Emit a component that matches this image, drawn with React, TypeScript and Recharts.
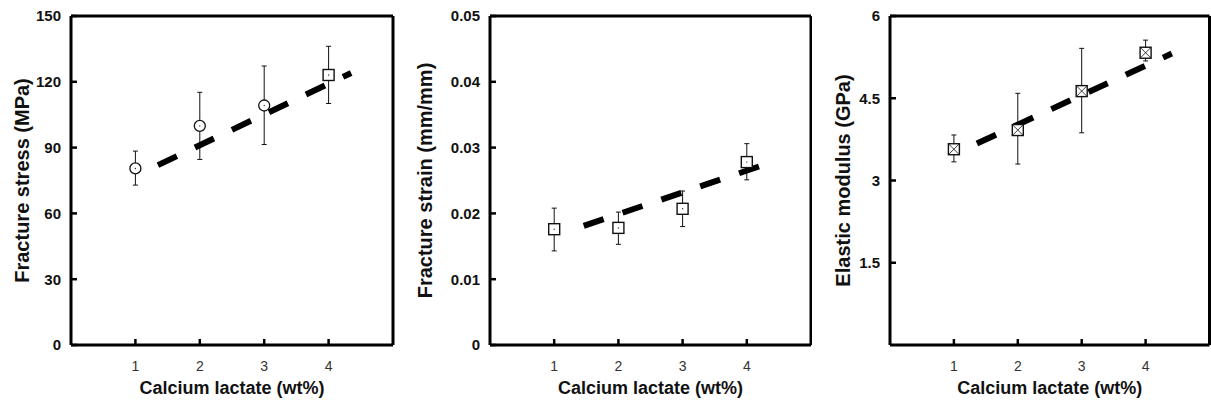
import React from "react";
import { ComposedChart, Scatter, Line, XAxis, YAxis, ErrorBar } from "recharts";

// calcium lactate content (wt%)
const lactate = [1, 2, 3, 4];
const xTicks = [1, 2, 3, 4];

// fracture stress (MPa)
const stressMean = [80.5, 99.9, 109.2, 123.1];
const stressLow = [72.9, 84.6, 91.4, 110.1];
const stressHigh = [88.4, 115.2, 127.2, 136.2];
const stressFitX = [1.35, 4.35];
const stressFitY = [82, 124];
const stressTicks = [0, 30, 60, 90, 120, 150];

// fracture strain (mm/mm)
const strainMean = [0.0176, 0.0178, 0.0207, 0.0278];
const strainLow = [0.0143, 0.0153, 0.018, 0.0251];
const strainHigh = [0.0208, 0.0202, 0.0234, 0.0306];
const strainFitX = [1.46, 4.21];
const strainFitY = [0.0181, 0.0272];
const strainTicks = [0, 0.01, 0.02, 0.03, 0.04, 0.05];

// elastic modulus (GPa)
const modulusMean = [3.57, 3.92, 4.63, 5.33];
const modulusLow = [3.34, 3.3, 3.87, 5.18];
const modulusHigh = [3.83, 4.59, 5.41, 5.56];
const modulusFitX = [1.36, 4.41];
const modulusFitY = [3.675, 5.315];
const modulusTicks = [1.5, 3, 4.5, 6];

const FONT = '"Liberation Sans", Arial, sans-serif';
const H = 404;
const TOP = 16;
const BOTTOM = 345;

type Marker = "circle" | "square" | "cross";

const makeShape = (marker: Marker) => (props: any) => {
  const { cx, cy, payload } = props;
  if (cx == null || cy == null) return <g />;
  const s = 5.5;
  if (marker === "circle" && payload.x !== 4) {
    return (
      <g>
        <circle cx={cx} cy={cy} r={s} fill="#fff" stroke="#111" strokeWidth={1.3} />
        <circle cx={cx} cy={cy} r={0.7} fill="#333" />
      </g>
    );
  }
  return (
    <g>
      <rect x={cx - s} y={cy - s} width={2 * s} height={2 * s} fill="#fff" stroke="#111" strokeWidth={1.4} />
      {marker === "cross" ? (
        <g stroke="#222" strokeWidth={0.9}>
          <line x1={cx - s} y1={cy - s} x2={cx + s} y2={cy + s} />
          <line x1={cx - s} y1={cy + s} x2={cx + s} y2={cy - s} />
        </g>
      ) : (
        <circle cx={cx} cy={cy} r={0.7} fill="#333" />
      )}
    </g>
  );
};

interface PanelProps {
  left: number;
  width: number;
  axisWidth: number;
  plotWidth: number;
  titleX: number;
  title: string;
  mean: number[];
  low: number[];
  high: number[];
  fitX: number[];
  fitY: number[];
  yTicks: number[];
  yMax: number;
  yFmt: (v: number) => string;
  marker: Marker;
}

function Panel(p: PanelProps) {
  const points = lactate.map((x, i) => ({
    x,
    y: p.mean[i],
    err: [p.mean[i] - p.low[i], p.high[i] - p.mean[i]],
  }));
  const fit = p.fitX.map((x, i) => ({ x, y: p.fitY[i] }));
  const axisLine = { stroke: "#000", strokeWidth: 3 };
  const tickLine = { stroke: "#000", strokeWidth: 2.5 };

  return (
    <div style={{ position: "absolute", left: p.left, top: 0 }}>
      <ComposedChart
        width={p.width}
        height={H}
        margin={{ top: TOP - 1, right: p.width - p.axisWidth - p.plotWidth - 1, bottom: 0, left: 0 }}
      >
        <XAxis
          xAxisId="b"
          type="number"
          dataKey="x"
          domain={[0, 5]}
          ticks={xTicks}
          height={H - BOTTOM}
          axisLine={axisLine}
          tickLine={tickLine}
          tickSize={-6}
          tickMargin={22}
          tick={{ fill: "#333", fontSize: 14, fontFamily: FONT }}
          label={{
            content: (lp: any) => {
              const vb = lp.viewBox;
              return (
                <text
                  x={vb.x + vb.width / 2}
                  y={vb.y + 49}
                  textAnchor="middle"
                  fontFamily={FONT}
                  fontWeight="bold"
                  fontSize={18}
                  fill="#111"
                >
                  Calcium lactate (wt%)
                </text>
              );
            },
          }}
        />
        <XAxis
          xAxisId="t"
          orientation="top"
          type="number"
          dataKey="x"
          domain={[0, 5]}
          ticks={xTicks}
          height={1}
          axisLine={axisLine}
          tickLine={tickLine}
          tickSize={-6}
          tickFormatter={() => ""}
        />
        <YAxis
          yAxisId="l"
          type="number"
          domain={[0, p.yMax]}
          ticks={p.yTicks}
          width={p.axisWidth}
          axisLine={axisLine}
          tickLine={tickLine}
          tickSize={-6}
          tickMargin={16}
          tickFormatter={p.yFmt}
          tick={{ fill: "#111", fontSize: 15, fontWeight: "bold", fontFamily: FONT }}
          label={{
            content: (lp: any) => {
              const vb = lp.viewBox;
              const cx = vb.x + p.titleX;
              const cy = vb.y + vb.height / 2;
              return (
                <text
                  x={cx}
                  y={cy}
                  transform={`rotate(-90, ${cx}, ${cy})`}
                  textAnchor="middle"
                  dominantBaseline="central"
                  fontFamily={FONT}
                  fontWeight="bold"
                  fontSize={20}
                  fill="#111"
                >
                  {p.title}
                </text>
              );
            },
          }}
        />
        <YAxis
          yAxisId="r"
          orientation="right"
          type="number"
          domain={[0, p.yMax]}
          ticks={p.yTicks}
          width={1}
          axisLine={axisLine}
          tickLine={tickLine}
          tickSize={-6}
          tickFormatter={() => ""}
        />
        <Scatter
          xAxisId="b"
          yAxisId="l"
          data={points}
          dataKey="y"
          shape={makeShape(p.marker)}
          isAnimationActive={false}
        >
          <ErrorBar dataKey="err" direction="y" width={2.5} stroke="#111" strokeWidth={1} />
        </Scatter>
        <Scatter xAxisId="t" yAxisId="r" data={[]} dataKey="y" isAnimationActive={false} />
        <Line
          xAxisId="b"
          yAxisId="l"
          data={fit}
          dataKey="y"
          type="linear"
          stroke="#000"
          strokeWidth={6}
          strokeDasharray="21 20"
          dot={false}
          activeDot={false}
          isAnimationActive={false}
        />
      </ComposedChart>
    </div>
  );
}

export default function App() {
  return (
    <div
      style={{
        position: "absolute",
        left: 0,
        top: 0,
        width: 1211,
        height: H,
        overflow: "hidden",
        background: "#fff",
      }}
    >
      <Panel
        left={0}
        width={400}
        axisWidth={71}
        plotWidth={322}
        titleX={22}
        title="Fracture stress (MPa)"
        mean={stressMean}
        low={stressLow}
        high={stressHigh}
        fitX={stressFitX}
        fitY={stressFitY}
        yTicks={stressTicks}
        yMax={150}
        yFmt={(v) => String(v)}
        marker="circle"
      />
      <Panel
        left={400}
        width={412}
        axisWidth={90}
        plotWidth={321}
        titleX={25}
        title="Fracture strain (mm/mm)"
        mean={strainMean}
        low={strainLow}
        high={strainHigh}
        fitX={strainFitX}
        fitY={strainFitY}
        yTicks={strainTicks}
        yMax={0.05}
        yFmt={(v) => (v === 0 ? "0" : v.toFixed(2))}
        marker="square"
      />
      <Panel
        left={810}
        width={401}
        axisWidth={80}
        plotWidth={319.5}
        titleX={32.5}
        title="Elastic modulus (GPa)"
        mean={modulusMean}
        low={modulusLow}
        high={modulusHigh}
        fitX={modulusFitX}
        fitY={modulusFitY}
        yTicks={modulusTicks}
        yMax={6}
        yFmt={(v) => String(v)}
        marker="cross"
      />
    </div>
  );
}
